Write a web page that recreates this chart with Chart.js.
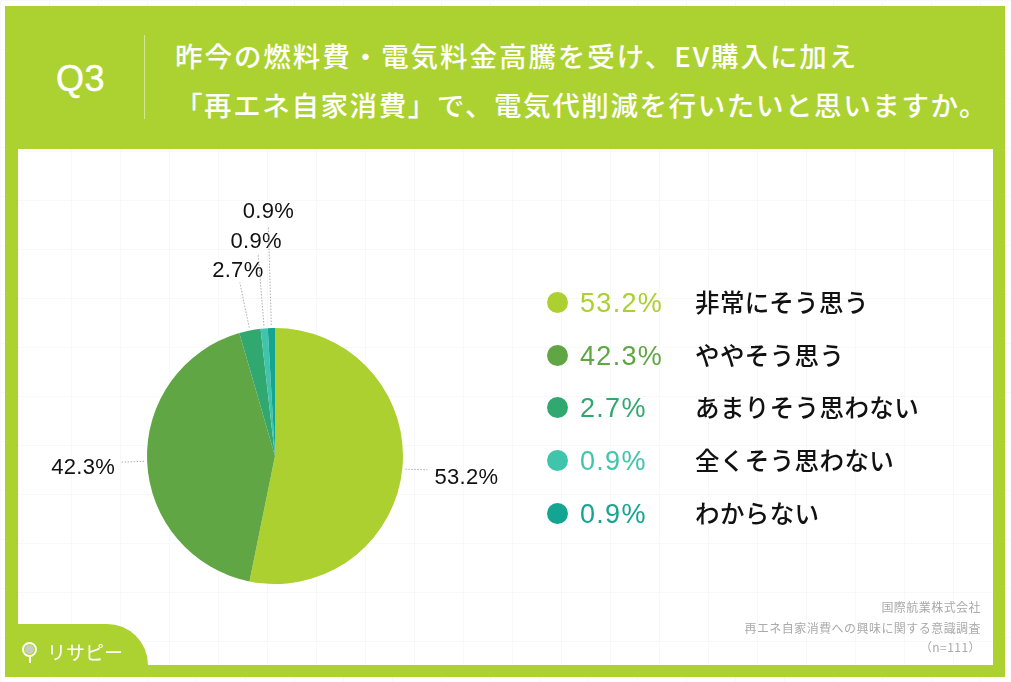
<!DOCTYPE html>
<html lang="ja">
<head>
<meta charset="utf-8">
<script src="https://cdn.jsdelivr.net/npm/chart.js@4/dist/chart.umd.min.js"></script>
<style>
html,body{margin:0;padding:0;background:#fff;}
#page{position:relative;width:1011px;height:682px;overflow:hidden;font-family:"Noto Sans CJK JP",sans-serif;
 background-color:#fff;
 background-image:linear-gradient(#f8f8f8 1px,transparent 1px),linear-gradient(90deg,#f8f8f8 1px,transparent 1px);
 background-size:49px 49px;background-position:0 0;}
#frame{position:absolute;left:5px;top:6px;width:1000px;height:671px;background:#acd232;}
#panel{position:absolute;left:18px;top:149px;width:975px;height:516px;background-color:#fff;
 background-image:linear-gradient(#f8f8f8 1px,transparent 1px),linear-gradient(90deg,#f8f8f8 1px,transparent 1px);
 background-size:49px 49px;background-position:4px 2px;}
#tab{position:absolute;left:18px;top:624px;width:130px;height:41px;background:#acd232;border-top-right-radius:42px;}
#q{position:absolute;left:56px;top:58px;font:400 36px "Liberation Sans",sans-serif;color:#fff;-webkit-text-stroke:.5px #fff;letter-spacing:.5px;}
#divider{position:absolute;left:144px;top:35px;width:1px;height:84px;background:#d6e88f;}
.title{position:absolute;left:175px;color:#fff;font-weight:500;font-size:27.5px;line-height:36px;white-space:nowrap;}
#chartBox{position:absolute;left:0;top:0;width:1011px;height:682px;}
.row{position:absolute;left:0;height:30px;}
.dot{position:absolute;left:547px;top:4px;width:21px;height:21px;border-radius:50%;}
.pct{position:absolute;left:580px;top:0;font:400 27px/30px "Liberation Sans",sans-serif;letter-spacing:1.3px;}
.name{position:absolute;left:695px;top:-1px;font-weight:500;font-size:24.5px;line-height:30px;color:#111;white-space:nowrap;letter-spacing:.4px;}
.note{position:absolute;right:30px;color:#aaa;font-size:12px;line-height:16px;white-space:nowrap;letter-spacing:.45px;}
#logo{position:absolute;left:47px;top:637px;color:#fff;font-size:19px;line-height:30px;font-weight:400;white-space:nowrap;}
#pin{position:absolute;left:22px;top:642px;width:11px;height:11px;border:2px solid #fff;border-radius:50%;}
#pinDot{position:absolute;left:25px;top:645px;width:9px;height:9px;border-radius:50%;background:#c9cfc0;}
#pinTail{position:absolute;left:29px;top:657px;width:2px;height:6px;background:#fff;}
</style>
</head>
<body>
<div id="page">
  <div id="frame"></div>
  <div id="panel"></div>
  <div id="tab"></div>
  <div id="q">Q3</div>
  <div id="divider"></div>
  <div class="title" style="top:37px;letter-spacing:1.95px">昨今の燃料費・電気料金高騰を受け、EV購入に加え</div>
  <div class="title" style="top:86px;letter-spacing:1.6px">「再エネ自家消費」で、電気代削減を行いたいと思いますか。</div>
  <div id="chartBox"><canvas id="myChart" width="1011" height="682"></canvas></div>
  <div id="legend"></div>
  <div class="note" style="top:599px">国際航業株式会社</div>
  <div class="note" style="top:620px">再エネ自家消費への興味に関する意識調査</div>
  <div class="note" style="top:639px">（n=111）</div>
  <div id="pin"></div><div id="pinDot"></div><div id="pinTail"></div>
  <div id="logo">リサピー</div>
</div>
<script>
// datos del grafico
let categories = ["非常にそう思う", "ややそう思う", "あまりそう思わない", "全くそう思わない", "わからない"];
let values = [53.2, 42.3, 2.7, 0.9, 0.9];
let colors = ["#abd02f", "#61a644", "#32a871", "#40c4ab", "#13a591"];

// offsets from the outer edge of each slice: leader end and text centre
let leaderEnds = [[25, 1], [-27, 1], [-10, -48], [-6, -75], [-3, -102]];
let textOffsets = [[64, 9], [-64, 7], [-12, -60], [-8, -87], [-3, -116]];
let legendTops = [288, 341, 393, 446, 499];

// leyenda
let legend = document.getElementById("legend");
categories.forEach((name, i) => {
	let row = document.createElement("div");
	row.className = "row";
	row.style.top = legendTops[i] + "px";
	row.innerHTML = `<div class="dot" style="background:${colors[i]}"></div>` +
		`<div class="pct" style="color:${colors[i]}">${values[i].toFixed(1)}%</div>` +
		`<div class="name">${name}</div>`;
	legend.appendChild(row);
});

// porcentajes y lineas guia
const outerLabels = {
	id: "outerLabels",
	afterDraw(chart) {
		let ctx = chart.ctx;
		chart.getDatasetMeta(0).data.forEach((arc, i) => {
			let mid = (arc.startAngle + arc.endAngle) / 2;
			let ox = arc.x + Math.cos(mid) * arc.outerRadius;
			let oy = arc.y + Math.sin(mid) * arc.outerRadius;
			ctx.save();
			ctx.strokeStyle = "#999";
			ctx.lineWidth = 0.8;
			ctx.setLineDash([1.5, 1.5]);
			ctx.beginPath();
			ctx.moveTo(ox + Math.cos(mid) * 3, oy + Math.sin(mid) * 3);
			ctx.lineTo(ox + leaderEnds[i][0], oy + leaderEnds[i][1]);
			ctx.stroke();
			ctx.restore();
			ctx.fillStyle = "#111";
			ctx.font = '22px "Liberation Sans"';
			ctx.letterSpacing = "0.3px";
			ctx.textAlign = "center";
			ctx.textBaseline = "middle";
			ctx.fillText(values[i].toFixed(1) + "%", ox + textOffsets[i][0], oy + textOffsets[i][1]);
		});
	}
};

new Chart(document.getElementById("myChart"), {
	type: "pie",
	data: {
		labels: categories,
		datasets: [{ data: values, backgroundColor: colors, borderWidth: 0 }]
	},
	options: {
		responsive: false,
		animation: false,
		layout: { padding: { left: 147, right: 608, top: 328, bottom: 98 } },
		plugins: { legend: { display: false }, tooltip: { enabled: false } }
	},
	plugins: [outerLabels]
});
</script>
</body>
</html>
